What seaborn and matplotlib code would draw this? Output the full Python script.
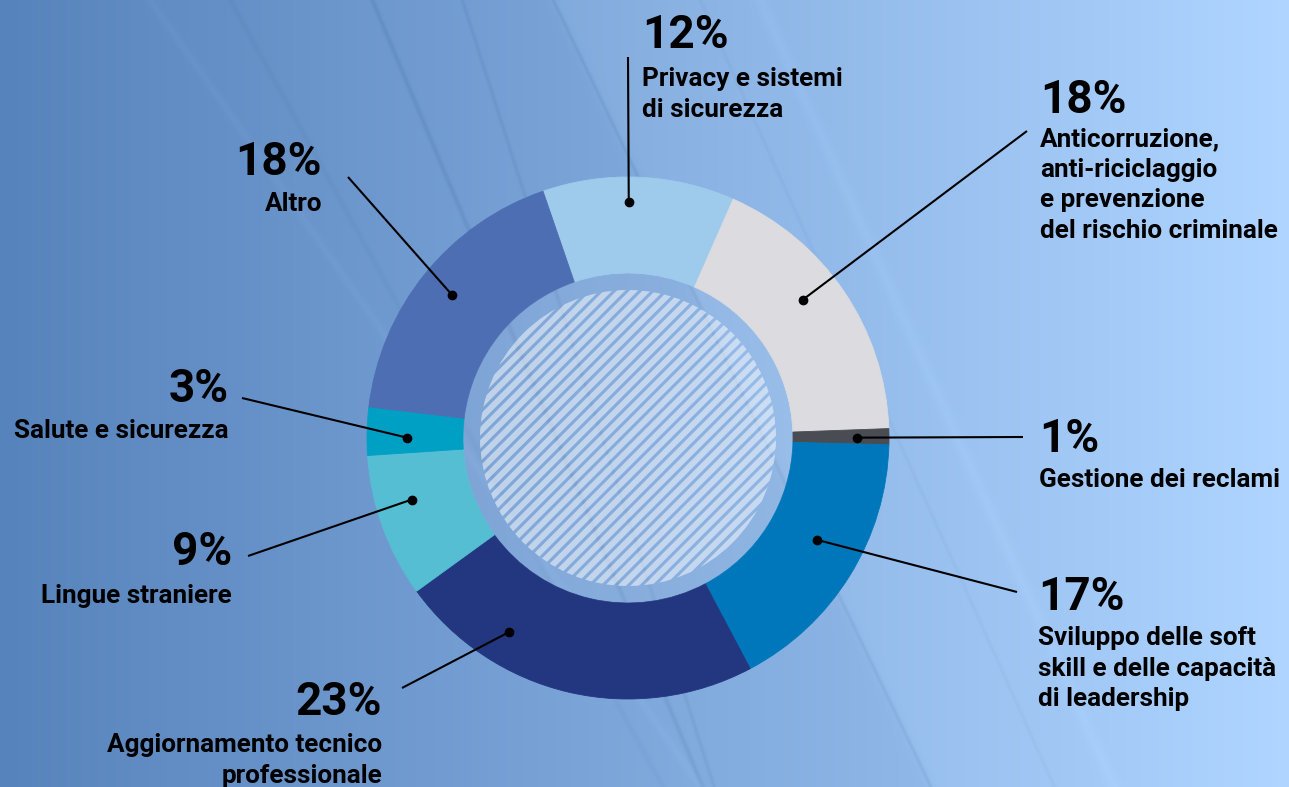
import numpy as np
import matplotlib
matplotlib.use("Agg")
import matplotlib.pyplot as plt
from matplotlib.patches import Circle
from matplotlib.collections import LineCollection
import seaborn as sns

sns.set_theme(style="white")
plt.rcParams['font.family'] = ['Roboto', 'DejaVu Sans']

# data, clockwise from the top
categories = ["Privacy e sistemi\ndi sicurezza",
              "Anticorruzione,\nanti-riciclaggio\ne prevenzione\ndel rischio criminale",
              "Gestione dei reclami",
              "Sviluppo delle soft\nskill e delle capacità\ndi leadership",
              "Aggiornamento tecnico\nprofessionale",
              "Lingue straniere",
              "Salute e sicurezza",
              "Altro"]
shares = [12, 18, 1, 17, 23, 9, 3, 18]
pct_labels = [f"{v}%" for v in shares]
slice_colors = ["#9ECBEC", "#DCDBDF", "#4A4C53", "#0077BA",
                "#233680", "#55BED3", "#00A0C5", "#4E6EB3"]
palette = sns.color_palette(slice_colors)

# layout (pixels, y measured from the top)
W, H = 1289, 787
cx, cy = 628, 438
r_out, r_in, r_hatch = 261, 165, 148
# ha, text x, pct baseline, first label baseline, leader end, dot angle nudge, dot radius
layout = [
    ("left", 642, 48, 86, (628, 57), 2.2, 0.904),
    ("left", 1040, 113, 146, (1027, 131), 4.2, 0.854),
    ("left", 1039, 452, 487, (1023, 437), -0.2, 0.877),
    ("left", 1038, 610, 645, (1017, 592), 3.5, 0.824),
    ("right", 382, 715, 752, (402, 688), -18.5, 0.874),
    ("right", 232, 565, 603, (248, 556), -4.0, 0.862),
    ("right", 229, 402, 438, (242, 398), 1.4, 0.847),
    ("right", 322, 175, 211, (348, 177), -0.2, 0.870),
]
line_step = 30.7
pct_size = 33
lab_size = 18.8


def Y(y):
    return H - y


fig = plt.figure(figsize=(W / 100, H / 100), dpi=100)
ax = fig.add_axes([0, 0, 1, 1])

# background: blue gradient with soft diagonal folds
yy, xx = np.mgrid[0:H, 0:W].astype(float)
t = xx / W
c_left = np.array([0x57, 0x83, 0xBC], float)
c_right = np.array([0xA6, 0xCD, 0xFA], float)
bg = c_left + (c_right - c_left) * t[..., None]
d = xx - (553 + 0.48 * yy)
bg += (1 / (1 + np.exp(-d / 3)))[..., None] * np.array([9, 8, 6])
folds = [(372, 0.42, 2.5, -10), (462, 0.32, 2.0, -8), (553, 0.48, 1.8, -10),
         (150, 0.70, 4.0, 4), (230, 0.55, 3.0, -4), (700, 0.45, 2.0, -5),
         (760, 0.45, 6.0, 4)]
for x0, slope, width, amp in folds:
    dist = (xx - (x0 + slope * yy)) / np.sqrt(1 + slope ** 2)
    bg += amp * np.exp(-(dist / width) ** 2)[..., None]
bg = np.clip(bg, 0, 255) / 255
ax.imshow(bg, extent=(0, W, 0, H), origin="upper", zorder=0, interpolation="bilinear")

# donut
wedges, _ = ax.pie(shares, colors=palette, startangle=109, counterclock=False,
                   radius=r_out, center=(cx, Y(cy)),
                   wedgeprops=dict(width=r_out - r_in, linewidth=0.6))
for w, c in zip(wedges, palette):
    w.set_edgecolor(c)
    w.set_zorder(2)

# inner glass ring + hatched disc
ax.add_patch(Circle((cx, Y(cy)), r_in, facecolor="white", alpha=0.08, lw=0, zorder=2))
disc = Circle((cx, Y(cy)), r_hatch, facecolor="white", alpha=0.0, lw=0, zorder=2)
ax.add_patch(disc)
u = np.array([1, 1]) / np.sqrt(2)
n = np.array([1, -1]) / np.sqrt(2)
segs = []
for k in range(-18, 19):
    p = np.array([cx, Y(cy)]) + k * 9.1 * n
    segs.append([p - 170 * u, p + 170 * u])
stripes = LineCollection(segs, colors="white", alpha=0.5, linewidths=4.3, zorder=3)
ax.add_collection(stripes)
stripes.set_clip_path(disc)

# leader lines, dots and labels
for w, (ha, tx, pb, lb, end, dang, drad), pct, cat in zip(wedges, layout, pct_labels, categories):
    mid = np.deg2rad((w.theta1 + w.theta2) / 2 + dang)
    dx = cx + drad * r_out * np.cos(mid)
    dy = Y(cy) + drad * r_out * np.sin(mid)
    ax.plot([dx, end[0]], [dy, Y(end[1])], color="black", lw=1.5, zorder=4,
            solid_capstyle="butt")
    ax.plot(dx, dy, "o", color="black", ms=6, zorder=5)
    ax.text(tx, Y(pb), pct, ha=ha, va="baseline", fontsize=pct_size,
            fontweight="bold", color="black", zorder=5)
    for i, line in enumerate(cat.split("\n")):
        ax.text(tx, Y(lb + i * line_step), line, ha=ha, va="baseline",
                fontsize=lab_size, fontweight="bold", color="black", zorder=5)

ax.set_xlim(0, W)
ax.set_ylim(0, H)
ax.set_aspect("equal")
ax.axis("off")

fig.savefig("out.png", dpi=100)
plt.close(fig)
